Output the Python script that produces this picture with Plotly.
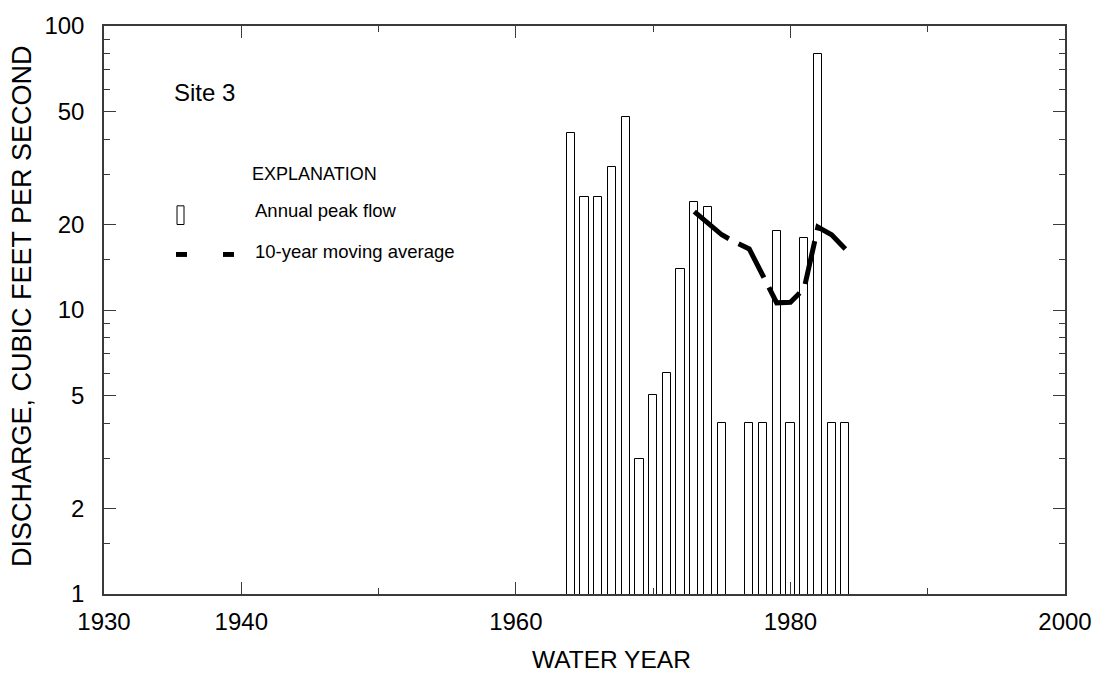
import plotly.graph_objects as go

# ---- data ----
peak_years = [1964, 1965, 1966, 1967, 1968, 1969, 1970, 1971, 1972, 1973, 1974, 1975,
              1977, 1978, 1979, 1980, 1981, 1982, 1983, 1984]
peak_flow = [42, 25, 25, 32, 48, 3, 5, 6, 14, 24, 23, 4,
             4, 4, 19, 4, 18, 80, 4, 4]
avg_years = [1973, 1974, 1975, 1976, 1977, 1978, 1979, 1980, 1981, 1982, 1983, 1984]
avg_flow = [22.2, 20.2, 18.4, 17.3, 16.4, 13.2, 10.6, 10.65, 11.9, 19.6, 18.4, 16.4]

x_tickvals = [1930, 1940, 1960, 1980, 2000]
x_minor = [1950, 1970, 1990]
y_tickvals = [1, 2, 5, 10, 20, 50, 100]
y_ticktext = ["1", "2", "5", "10", "20", "50", "100"]
y_minor = [1.5, 3, 4, 6, 7, 8, 9, 15, 30, 40, 60, 70, 80, 90]

# ---- layout geometry (pixels) ----
W, H = 1104, 675
L, R, T, B = 104, 1065, 16, 594
FONT = "Arial, Liberation Sans, sans-serif"
AXC = "#3a3a3a"


def px(x):
    return (x - L) / (R - L)


def py(y):
    return (B - y) / (B - T)


fig = go.Figure()
fig.add_trace(go.Bar(x=peak_years, y=peak_flow, width=0.6,
                     marker=dict(color="white", line=dict(color="black", width=1)),
                     showlegend=False))
fig.add_trace(go.Scatter(x=avg_years, y=avg_flow, mode="lines",
                         line=dict(color="black", width=5, dash="44px,11px"),
                         showlegend=False))

fig.update_layout(
    width=W, height=H,
    margin=dict(l=L, r=W - R, t=T, b=H - B),
    plot_bgcolor="white", paper_bgcolor="white",
    font=dict(family=FONT, color="black"),
    bargap=0,
)
fig.update_xaxes(
    range=[1930, 2000], tickvals=x_tickvals, ticks="inside", ticklen=12,
    tickcolor=AXC, tickwidth=1, showline=True, linecolor=AXC, linewidth=1.5,
    mirror="ticks", showgrid=False, zeroline=False,
    tickfont=dict(size=24, family=FONT), ticklabelstandoff=5,
    minor=dict(tickvals=x_minor, ticks="inside", ticklen=6, tickcolor=AXC, showgrid=False),
)
fig.update_yaxes(
    type="log", range=[0, 2], tickvals=y_tickvals, ticktext=y_ticktext,
    ticks="inside", ticklen=12, tickcolor=AXC, tickwidth=1, showline=True,
    linecolor=AXC, linewidth=1.5, mirror="ticks", showgrid=False, zeroline=False,
    tickfont=dict(size=24, family=FONT), ticklabelstandoff=13,
    minor=dict(tickvals=y_minor, ticks="inside", ticklen=6, tickcolor=AXC, showgrid=False),
)

ann = [
    dict(text="WATER YEAR", x=px(611), y=py(661), xanchor="center", yanchor="middle",
         font=dict(size=24.5)),
    dict(text="DISCHARGE, CUBIC FEET PER SECOND", x=px(22), y=py(301), textangle=-90,
         xanchor="center", yanchor="middle", font=dict(size=27)),
    dict(text="Site 3", x=px(172), y=py(84), xanchor="left", yanchor="middle",
         font=dict(size=24)),
    dict(text="EXPLANATION", x=px(250), y=py(167), xanchor="left", yanchor="middle",
         font=dict(size=18)),
    dict(text="Annual peak flow", x=px(253), y=py(204), xanchor="left", yanchor="middle",
         font=dict(size=18.5)),
    dict(text="10-year moving average", x=px(253), y=py(245), xanchor="left", yanchor="middle",
         font=dict(size=18.5)),
]
for a in ann:
    a.update(xref="paper", yref="paper", showarrow=False)
fig.update_layout(annotations=ann)

shapes = [
    dict(type="rect", x0=px(177), x1=px(184), y0=py(218), y1=py(199),
         line=dict(color="black", width=1), fillcolor="white"),
    dict(type="rect", x0=px(176), x1=px(187), y0=py(251), y1=py(246),
         line=dict(width=0), fillcolor="black"),
    dict(type="rect", x0=px(223), x1=px(234), y0=py(251), y1=py(246),
         line=dict(width=0), fillcolor="black"),
]
for s in shapes:
    s.update(xref="paper", yref="paper")
fig.update_layout(shapes=shapes)

fig.write_html("out.html")
